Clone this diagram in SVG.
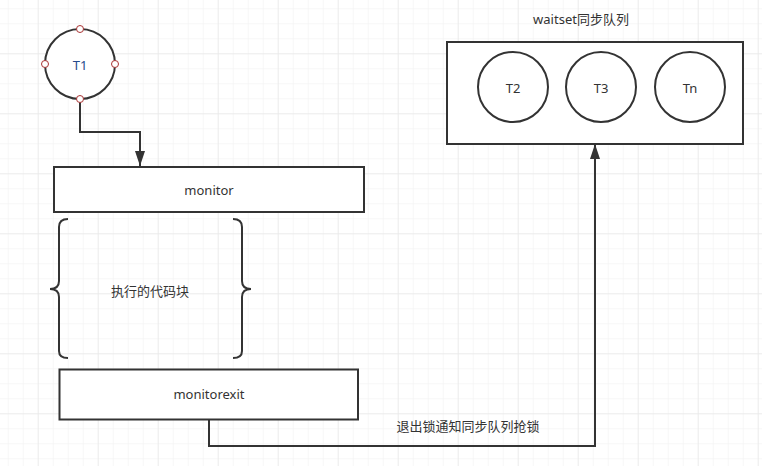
<svg xmlns="http://www.w3.org/2000/svg" width="762" height="466" viewBox="0 0 762 466">
<defs>
<pattern id="gs" x="7.7" y="8.3" width="15" height="15" patternUnits="userSpaceOnUse">
<path d="M0 0H15M0 0V15" fill="none" stroke="#f0f0f0" stroke-width="1"/>
</pattern>
<pattern id="gl" x="37.7" y="53.3" width="60" height="60" patternUnits="userSpaceOnUse">
<path d="M0 0H60M0 0V60" fill="none" stroke="#e3e3e3" stroke-width="1"/>
</pattern>
<marker id="arr" viewBox="0 0 15 10" refX="15" refY="5" markerWidth="7.5" markerHeight="5" orient="auto" markerUnits="strokeWidth">
<path d="M0 0L15 5L0 10z" fill="#333"/>
</marker>
<style>
.s{fill:#fff;stroke:#333;stroke-width:2}
.b{fill:none;stroke:#333;stroke-width:2}
.c{fill:none;stroke:#333;stroke-width:2}
.p{fill:#fff;stroke:#a33;stroke-width:1}
text{font-family:"Noto Sans","Noto Sans CJK SC",sans-serif;font-size:13px;fill:#333;text-anchor:middle;dominant-baseline:central}
</style>
</defs>
<rect width="762" height="466" fill="#fff"/>
<rect width="762" height="466" fill="url(#gs)"/>
<rect width="762" height="466" fill="url(#gl)"/>
<g id="connectors">
<path class="c" d="M80 99V132H140V166" marker-end="url(#arr)"/>
<path class="c" d="M209 419.5V446H595V144" marker-end="url(#arr)"/>
<text x="468" y="426">退出锁通知同步队列抢锁</text>
</g>
<g id="t1">
<circle class="s" cx="80" cy="64" r="35"/>
<text x="80" y="65" style="fill:#264b8c">T1</text>
<circle class="p" cx="80" cy="29" r="3.5"/>
<circle class="p" cx="80" cy="99" r="3.5"/>
<circle class="p" cx="45" cy="64" r="3.5"/>
<circle class="p" cx="115" cy="64" r="3.5"/>
</g>
<g id="monitor">
<rect class="s" x="54" y="167" width="310" height="45"/>
<text x="209" y="190">monitor</text>
</g>
<g id="codeblock">
<path class="b" d="M68 219Q59 219 59 227V281Q59 289 50 289Q59 289 59 297V351Q59 358 68 358"/>
<path class="b" d="M233 219Q242 219 242 227V281Q242 289 251 289Q242 289 242 297V351Q242 358 233 358"/>
<text x="150" y="291">执行的代码块</text>
</g>
<g id="monitorexit">
<rect class="s" x="59.5" y="369.5" width="298.5" height="50"/>
<text x="209" y="394">monitorexit</text>
</g>
<g id="waitset">
<text x="581" y="19">waitset同步队列</text>
<rect class="s" x="447" y="42" width="296" height="102"/>
</g>
<g id="t2">
<circle class="s" cx="513" cy="87" r="35"/>
<text x="513" y="88">T2</text>
</g>
<g id="t3">
<circle class="s" cx="601" cy="87" r="35"/>
<text x="601" y="88">T3</text>
</g>
<g id="tn">
<circle class="s" cx="690" cy="87" r="35"/>
<text x="690" y="88">Tn</text>
</g>
</svg>
